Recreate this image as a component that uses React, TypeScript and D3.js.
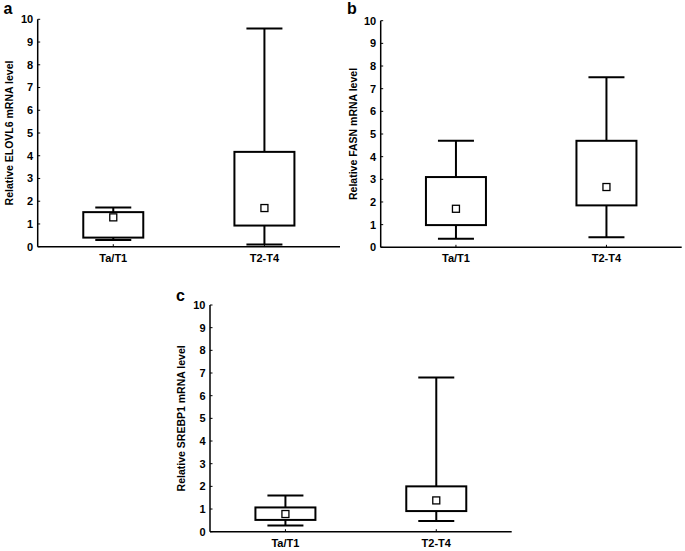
import React, { useEffect, useRef } from "react";
import * as d3 from "d3";

const categories = ["Ta/T1", "T2-T4"];
const yTicks = [0, 1, 2, 3, 4, 5, 6, 7, 8, 9, 10];

// [whiskerLow, q1, q3, whiskerHigh, mean] per category
const elovl6Stats = [
  [0.3, 0.4, 1.52, 1.72, 1.29],
  [0.1, 0.93, 4.17, 9.6, 1.7],
];
const fasnStats = [
  [0.38, 0.98, 3.1, 4.7, 1.7],
  [0.44, 1.85, 4.7, 7.5, 2.66],
];
const srebp1Stats = [
  [0.27, 0.52, 1.07, 1.6, 0.78],
  [0.47, 0.91, 2.0, 6.8, 1.38],
];

const panels = [
  { letter: "a", label: "Relative ELOVL6 mRNA level", stats: elovl6Stats, x0: 37.7, x1: 340, yTop: 19.3, yBot: 246.7, lx: 3.5, ly: 13.5, labX: 9.5 },
  { letter: "b", label: "Relative FASN mRNA level", stats: fasnStats, x0: 380.7, x1: 681.7, yTop: 20.7, yBot: 247.3, lx: 347, ly: 14, labX: 353 },
  { letter: "c", label: "Relative SREBP1 mRNA level", stats: srebp1Stats, x0: 210, x1: 511.7, yTop: 305, yBot: 531.7, lx: 176, ly: 301, labX: 181.5 },
];

export default function App() {
  const ref = useRef<SVGSVGElement>(null);
  useEffect(() => {
    const svg = d3.select(ref.current);
    svg.selectAll("*").remove();
    const font = "Liberation Sans, Arial, sans-serif";
    panels.forEach((p) => {
      const g = svg.append("g");
      const x = d3.scalePoint<string>().domain(categories).range([p.x0, p.x1]).padding(0.5);
      const y = d3.scaleLinear().domain([0, 10]).range([p.yBot, p.yTop]);
      const boxW = 60;
      const capW = 36;

      // axes
      g.append("line").attr("x1", p.x0).attr("x2", p.x0).attr("y1", y(10)).attr("y2", y(0))
        .attr("stroke", "#000").attr("stroke-width", 1.5);
      g.append("line").attr("x1", p.x0).attr("x2", p.x1).attr("y1", y(0)).attr("y2", y(0))
        .attr("stroke", "#000").attr("stroke-width", 1.5);
      yTicks.forEach((t) => {
        g.append("line").attr("x1", p.x0).attr("x2", p.x0 + 2.5).attr("y1", y(t)).attr("y2", y(t))
          .attr("stroke", "#000").attr("stroke-width", 1);
        g.append("text").attr("x", p.x0 - 4.5).attr("y", y(t)).attr("dy", "0.36em")
          .attr("text-anchor", "end").attr("font-family", font).attr("font-weight", "bold")
          .attr("font-size", 11).text(String(t));
      });
      categories.forEach((c) => {
        const cx = x(c) as number;
        g.append("line").attr("x1", cx).attr("x2", cx).attr("y1", y(0)).attr("y2", y(0) - 2.5)
          .attr("stroke", "#000").attr("stroke-width", 1);
        g.append("text").attr("x", cx).attr("y", y(0) + 15).attr("text-anchor", "middle")
          .attr("font-family", font).attr("font-weight", "bold").attr("font-size", 11).text(c);
      });

      // y label
      g.append("text").attr("transform", `translate(${p.labX},${(y(0) + y(10)) / 2}) rotate(-90)`)
        .attr("text-anchor", "middle").attr("dy", "0.35em").attr("font-family", font)
        .attr("font-weight", "bold").attr("font-size", 10.5).text(p.label);

      // panel letter
      g.append("text").attr("x", p.lx).attr("y", p.ly).attr("font-family", font)
        .attr("font-weight", "bold").attr("font-size", 16).text(p.letter);

      // boxes
      p.stats.forEach((s, i) => {
        const cx = x(categories[i]) as number;
        const [lo, q1, q3, hi, mean] = s;
        const ln = (x1: number, y1: number, x2: number, y2: number) =>
          g.append("line").attr("x1", x1).attr("x2", x2).attr("y1", y1).attr("y2", y2)
            .attr("stroke", "#000").attr("stroke-width", 2);
        ln(cx, y(hi), cx, y(q3));
        ln(cx, y(q1), cx, y(lo));
        ln(cx - capW / 2, y(hi), cx + capW / 2, y(hi));
        ln(cx - capW / 2, y(lo), cx + capW / 2, y(lo));
        g.append("rect").attr("x", cx - boxW / 2).attr("y", y(q3)).attr("width", boxW)
          .attr("height", y(q1) - y(q3)).attr("fill", "#fff").attr("stroke", "#000").attr("stroke-width", 2);
        g.append("rect").attr("x", cx - 3.5).attr("y", y(mean) - 3.5).attr("width", 7).attr("height", 7)
          .attr("fill", "#fff").attr("stroke", "#000").attr("stroke-width", 1.3);
      });
    });
  }, []);
  return (
    <svg ref={ref} width={685} height={551}
      style={{ position: "absolute", left: 0, top: 0, background: "#fff" }} />
  );
}
